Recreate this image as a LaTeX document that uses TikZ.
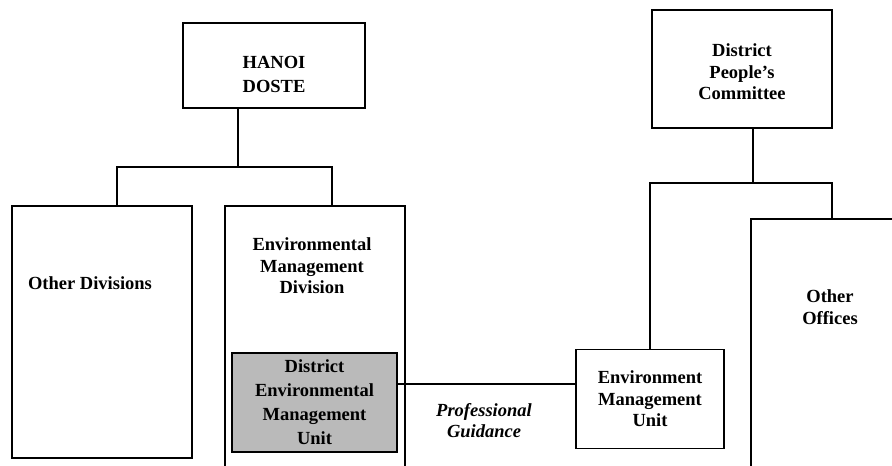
\documentclass[tikz,border=0pt]{standalone}
\usepackage{fontspec}
\setmainfont{Liberation Serif}
\usetikzlibrary{calc, positioning}

\begin{document}
\begin{tikzpicture}[x=1pt, y=-1pt, line width=1.8pt,
  box/.style={draw, rectangle, inner sep=0pt},
  txt/.style={align=center, font=\bfseries\fontsize{18.5}{21.5}\selectfont},
  note/.style={align=center, font=\bfseries\itshape\fontsize{18.5}{21}\selectfont}]
  \useasboundingbox (0,0) rectangle (892,466);
  \clip (0,0) rectangle (892,466);

  % left branch: DOSTE
  \node[box, minimum width=182, minimum height=85] (doste) at (274,65.5) {};
  \node[txt, font=\bfseries\fontsize{18.5}{24}\selectfont] (dostetxt) at (274,74) {HANOI\\DOSTE};
  \node[box, minimum width=180, minimum height=252] (divs) at (102,332) {};
  \node[txt] (divstxt) at (90,283) {Other Divisions};
  \node[box, minimum width=180, minimum height=300] (emd) at (315,356) {};
  \node[txt] (emdtxt) at (312,266) {Environmental\\Management\\Division};
  \node[box, fill=black!27, minimum width=165, minimum height=99,
        txt, font=\bfseries\fontsize{18.5}{24}\selectfont] (demu) at (314.5,402.5)
        {District\\Environmental\\Management\\Unit};

  % right branch: district
  \node[box, minimum width=180, minimum height=118] (dpc) at (742,69) {};
  \node[txt] (dpctxt) at (742,72) {District\\People's\\Committee};
  \node[box, txt, minimum width=148, minimum height=99] (emu) at (650,399) {Environment\\Management\\Unit};
  \node[box, anchor=north west, minimum width=200, minimum height=300] (offices) at (750,218) {};
  \node[txt] (offtxt) at (830,307) {Other\\Offices};

  % tree lines
  \coordinate (hub) at (238,167);
  \coordinate (la) at (117,167);
  \coordinate (lb) at (332,167);
  \draw (doste.south -| hub) -- (hub);
  \draw (la |- divs.north) -- (la) -- (lb) -- (lb |- emd.north);

  \coordinate (rc) at (753,183);
  \coordinate (rb) at (832,183);
  \draw (dpc.south -| rc) -- (rc);
  \draw (emu.north) |- (rb) -- (rb |- offices.north);

  % guidance link
  \coordinate (pg) at (480,384);
  \draw[line width=1.2pt] (pg -| demu.east) -- (pg -| emu.west);
  \node[note] (guide) at (484,421) {Professional\\Guidance};
\end{tikzpicture}
\end{document}
